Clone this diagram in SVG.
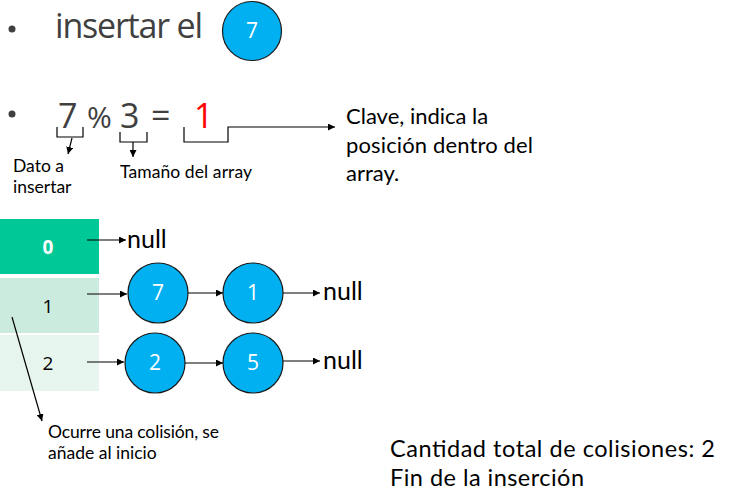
<svg xmlns="http://www.w3.org/2000/svg" width="741" height="501" viewBox="0 0 741 501">
<style>
text{font-family:Lato,"Liberation Sans",sans-serif;}
.big{font-family:"Open Sans","Noto Sans",sans-serif;font-size:34px;fill:#404040;}
.lbl{font-size:17.5px;fill:#000;}
.mid{font-size:22px;fill:#000;}
.node circle{fill:#00B0F0;stroke:#1a1a1a;stroke-width:1.2;}
.node text{font-family:"Open Sans","Noto Sans",sans-serif;font-size:21px;fill:#fff;text-anchor:middle;}
.ln{stroke:#000;stroke-width:1.2;fill:none;}
.null{font-size:25px;fill:#000;}
.foot{font-size:23.5px;fill:#000;}
.cell{font-family:"Open Sans","Noto Sans",sans-serif;font-size:19px;text-anchor:middle;}
</style>
<defs>
<marker id="ah" viewBox="0 0 10 10" refX="10" refY="5" markerWidth="7" markerHeight="7" markerUnits="userSpaceOnUse" orient="auto"><path d="M0,0L10,5L0,10z" fill="#000"/></marker>
</defs>
<rect width="741" height="501" fill="#fff"/>
<!-- line 1 -->
<circle cx="12" cy="29" r="3.5" fill="#404040"/>
<text class="big" x="55" y="38" textLength="148">insertar el</text>
<g id="node-top" class="node"><circle cx="252" cy="31" r="29.5"/><text x="252" y="38">7</text></g>
<!-- line 2 -->
<circle cx="12" cy="114" r="3.5" fill="#404040"/>
<text class="big" x="58" y="128">7</text>
<text class="big" x="87" y="128" style="font-size:30px">%</text>
<text class="big" x="120" y="128">3</text>
<text class="big" x="151" y="128">=</text>
<text class="big" x="194" y="128" style="fill:#FF0000">1</text>
<text class="lbl" x="13" y="172">Dato a</text>
<text class="lbl" x="13" y="193">insertar</text>
<text class="lbl" x="120" y="178" textLength="132">Tamaño del array</text>
<text class="mid" x="346" y="124">Clave, indica la</text>
<text class="mid" x="346" y="153" textLength="187">posición dentro del</text>
<text class="mid" x="346" y="181">array.</text>
<!-- table -->
<g id="row0"><rect x="0" y="219" width="99" height="55" fill="#00C896"/><text class="cell" x="48" y="254" style="font-weight:bold;fill:#fff">0</text></g>
<g id="row1"><rect x="0" y="278" width="99" height="55" fill="#CCEBDF"/><text class="cell" x="48" y="313" style="fill:#000">1</text></g>
<g id="row2"><rect x="0" y="335" width="99" height="56" fill="#E7F5EF"/><text class="cell" x="48" y="370" style="fill:#000">2</text></g>
<text class="null" x="127" y="248">null</text>
<text class="null" x="323" y="300">null</text>
<text class="null" x="323" y="369">null</text>
<g id="node-7" class="node"><circle cx="158" cy="293" r="30"/><text x="158" y="300">7</text></g>
<g id="node-1" class="node"><circle cx="253" cy="293" r="30"/><text x="253" y="300">1</text></g>
<g id="node-2" class="node"><circle cx="155" cy="363" r="30"/><text x="155" y="370">2</text></g>
<g id="node-5" class="node"><circle cx="253" cy="363" r="30"/><text x="253" y="370">5</text></g>
<g id="connectors">
<path class="ln" d="M57,127V137H83V127"/>
<path class="ln" d="M72,138L68,154" marker-end="url(#ah)"/>
<path class="ln" d="M120,132V142H147V132"/>
<path class="ln" d="M133,142V157" marker-end="url(#ah)"/>
<path class="ln" d="M184,127V142H228V127H335" marker-end="url(#ah)"/>
<path class="ln" d="M87,240H126" marker-end="url(#ah)"/>
<path class="ln" d="M87,294H127" marker-end="url(#ah)"/>
<path class="ln" d="M188,293H223" marker-end="url(#ah)"/>
<path class="ln" d="M283,293H320" marker-end="url(#ah)"/>
<path class="ln" d="M87,362H124" marker-end="url(#ah)"/>
<path class="ln" d="M185,363H223" marker-end="url(#ah)"/>
<path class="ln" d="M283,361H320" marker-end="url(#ah)"/>
<path class="ln" d="M12,317L42,421" marker-end="url(#ah)"/>
</g>
<text class="lbl" x="48" y="438" textLength="171">Ocurre una colisión, se</text>
<text class="lbl" x="48" y="459">añade al inicio</text>
<text class="foot" x="390" y="457" textLength="325">Cantidad total de colisiones: 2</text>
<text class="foot" x="390" y="486" textLength="194">Fin de la inserción</text>
</svg>
